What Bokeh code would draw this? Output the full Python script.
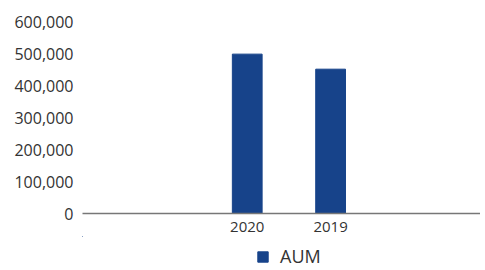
from bokeh.plotting import figure
from bokeh.layouts import column
from bokeh.models import (ColumnDataSource, Range1d, FixedTicker, NumeralTickFormatter,
                          Legend, LegendItem)
from bokeh.embed import file_html
from bokeh.resources import INLINE

categories = ["2020", "2019"]
aum = [498000, 451000]
series_name = "AUM"

FONT = "Open Sans"
TEXT = "#333333"
BAR = "#17438A"

xs = list(range(len(categories)))
src = ColumnDataSource(dict(x=xs, top=aum, cat=categories))

p = figure(width=480, height=236, output_backend="svg", toolbar_location=None,
           x_range=Range1d(-1.976, 2.798), y_range=Range1d(0, 600000),
           min_border_left=82, min_border_right=0, min_border_top=21, min_border_bottom=23)
p.outline_line_color = None
p.xgrid.grid_line_color = None
p.ygrid.grid_line_color = None

p.vbar(x="x", top="top", width=0.357, source=src, color=BAR)

p.yaxis.ticker = FixedTicker(ticks=[0, 100000, 200000, 300000, 400000, 500000, 600000])
p.yaxis.formatter = NumeralTickFormatter(format="0,0")
p.yaxis.axis_line_color = None
p.yaxis.major_tick_line_color = None
p.yaxis.major_tick_out = 0
p.yaxis.major_tick_in = 0
p.yaxis.minor_tick_line_color = None
p.yaxis.major_label_standoff = 9
p.yaxis.major_label_text_font = FONT
p.yaxis.major_label_text_font_size = "16px"
p.yaxis.major_label_text_color = TEXT

p.xaxis.ticker = FixedTicker(ticks=xs)
p.xaxis.major_label_overrides = {i: c for i, c in zip(xs, categories)}
p.xaxis.axis_line_color = "#777777"
p.xaxis.axis_line_width = 1.5
p.xaxis.major_tick_line_color = None
p.xaxis.major_tick_out = 0
p.xaxis.major_tick_in = 0
p.xaxis.minor_tick_line_color = None
p.xaxis.major_label_standoff = 8
p.xaxis.major_label_text_font = FONT
p.xaxis.major_label_text_font_size = "15px"
p.xaxis.major_label_text_color = TEXT

# legend strip below the chart (its bars lie outside its visible ranges)
lg = figure(width=480, height=32, output_backend="svg", toolbar_location=None,
            x_range=Range1d(5, 6), y_range=Range1d(-2e6, -1e6),
            x_axis_location=None, y_axis_location=None,
            min_border_left=0, min_border_right=0, min_border_top=0, min_border_bottom=0)
lg.outline_line_color = None
lg.xgrid.grid_line_color = None
lg.ygrid.grid_line_color = None
lr = lg.vbar(x="x", top="top", width=0.357, source=src, color=BAR)

legend = Legend(items=[LegendItem(label=series_name, renderers=[lr])], orientation="horizontal",
                location=(174, 0), border_line_color=None, background_fill_alpha=0,
                label_text_font=FONT, label_text_font_size="18px", label_text_color=TEXT,
                glyph_width=13, glyph_height=13, padding=0, margin=0, spacing=8,
                label_standoff=11, label_height=13)
lg.add_layout(legend, "center")

layout = column(p, lg, spacing=0)
open("out.html", "w").write(file_html(layout, INLINE))
